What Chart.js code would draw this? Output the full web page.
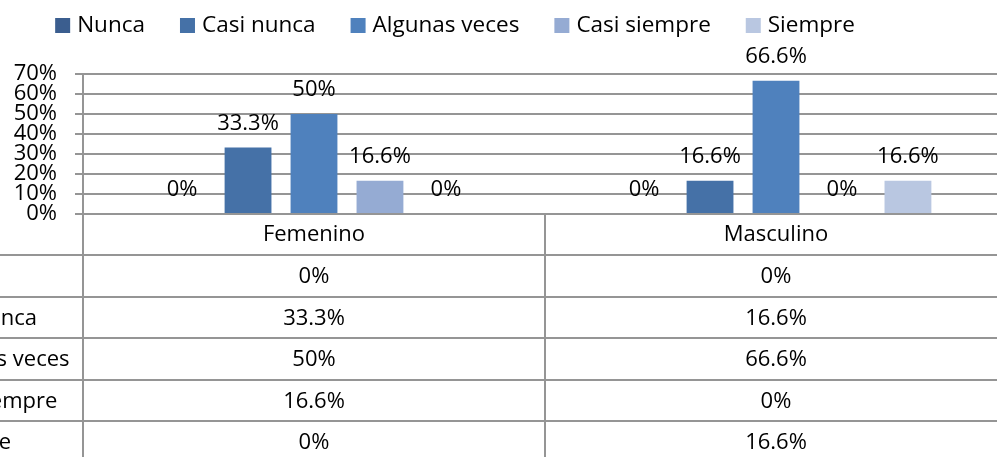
<!DOCTYPE html>
<html>
<head>
<meta charset="utf-8">
<script src="https://cdn.jsdelivr.net/npm/chart.js@4/dist/chart.umd.min.js"></script>
<style>
  html, body { margin: 0; padding: 0; background: #fff; overflow: hidden; width: 997px; height: 457px; }
  #wrap { position: absolute; left: -130px; top: 0; width: 1160px; height: 457px; }
  canvas { display: block; }
</style>
</head>
<body>
<div id="wrap"><canvas id="c" width="1160" height="457"></canvas></div>
<script>
// ---- data ----
const categories = ['Femenino', 'Masculino'];
const seriesNames = ['Nunca', 'Casi nunca', 'Algunas veces', 'Casi siempre', 'Siempre'];
const nunca = [0, 0];
const casiNunca = [33.3, 16.6];
const algunasVeces = [50, 66.6];
const casiSiempre = [16.6, 0];
const siempre = [0, 16.6];
const yTicks = [0, 10, 20, 30, 40, 50, 60, 70];

const seriesValues = [nunca, casiNunca, algunasVeces, casiSiempre, siempre];
const colors = ['#3B5E8F', '#4571A7', '#4F81BD', '#95ABD3', '#B9C7E1'];

const FONT = '22px "Open Sans"';
const LEGEND_FONT = '22.5px "Open Sans"';
const LINE = '#959595';
const fmt = v => v + '%';

const datasets = seriesNames.map((name, i) => ({
  label: name,
  data: seriesValues[i],
  backgroundColor: colors[i],
  borderWidth: 0,
  categoryPercentage: 0.714,
  barPercentage: 0.71
}));

// legend drawn from datasets
const legendPlugin = {
  id: 'customLegend',
  afterDraw(chart) {
    const ctx = chart.ctx;
    ctx.save();
    ctx.font = LEGEND_FONT;
    ctx.textBaseline = 'middle';
    ctx.textAlign = 'left';
    const box = 15, gap = 7, spacing = 35;
    const items = chart.data.datasets.map(d => ({ label: d.label, color: d.backgroundColor, w: ctx.measureText(d.label).width }));
    let total = items.reduce((s, it) => s + box + gap + it.w, 0) + spacing * (items.length - 1);
    const centerX = 455 + 130;
    let x = centerX - total / 2;
    const cy = 26;
    items.forEach(it => {
      ctx.fillStyle = it.color;
      ctx.fillRect(x, 18, box, box);
      ctx.fillStyle = '#000';
      ctx.fillText(it.label, x + box + gap, cy);
      x += box + gap + it.w + spacing;
    });
    ctx.restore();
  }
};

// value labels above bars
const valueLabels = {
  id: 'valueLabels',
  afterDatasetsDraw(chart) {
    const ctx = chart.ctx;
    ctx.save();
    ctx.font = FONT;
    ctx.fillStyle = '#000';
    ctx.textAlign = 'center';
    ctx.textBaseline = 'middle';
    chart.data.datasets.forEach((ds, di) => {
      const meta = chart.getDatasetMeta(di);
      meta.data.forEach((el, i) => {
        ctx.fillText(fmt(ds.data[i]), el.x, el.y - 24);
      });
    });
    ctx.restore();
  }
};

// data table beneath the chart
const dataTable = {
  id: 'dataTable',
  afterDraw(chart) {
    const ctx = chart.ctx;
    const area = chart.chartArea;
    const xs = chart.scales.x;
    const n = categories.length;
    const colW = (xs.getPixelForValue(1) - xs.getPixelForValue(0));
    const bounds = [];
    for (let i = 0; i <= n; i++) bounds.push(xs.getPixelForValue(0) - colW / 2 + i * colW);
    const rowH = 41.6;
    const headerBottom = area.bottom + 41;
    const rowLines = [headerBottom];
    for (let r = 1; r <= seriesNames.length; r++) rowLines.push(headerBottom + r * rowH);

    ctx.save();
    ctx.strokeStyle = LINE;
    ctx.lineWidth = 2;
    rowLines.forEach(y => {
      ctx.beginPath();
      ctx.moveTo(0, Math.round(y));
      ctx.lineTo(bounds[n], Math.round(y));
      ctx.stroke();
    });
    bounds.forEach(x => {
      ctx.beginPath();
      ctx.moveTo(Math.round(x), area.bottom);
      ctx.lineTo(Math.round(x), chart.height);
      ctx.stroke();
    });

    ctx.font = FONT;
    ctx.fillStyle = '#000';
    ctx.textBaseline = 'middle';
    ctx.textAlign = 'center';
    categories.forEach((c, i) => {
      ctx.fillText(c, (bounds[i] + bounds[i + 1]) / 2, (area.bottom + headerBottom) / 2);
    });
    seriesNames.forEach((name, r) => {
      const cy = (rowLines[r] + rowLines[r + 1]) / 2 + 1;
      ctx.textAlign = 'left';
      ctx.fillText(name, 56, cy);
      ctx.textAlign = 'center';
      seriesValues[r].forEach((v, i) => {
        ctx.fillText(fmt(v), (bounds[i] + bounds[i + 1]) / 2, cy);
      });
    });
    ctx.restore();
  }
};

new Chart(document.getElementById('c'), {
  type: 'bar',
  data: { labels: categories, datasets },
  options: {
    responsive: false,
    animation: false,
    devicePixelRatio: 1,
    layout: { padding: { top: 74, bottom: 243, left: 0, right: 23 } },
    plugins: { legend: { display: false }, tooltip: { enabled: false } },
    scales: {
      x: { display: false },
      y: {
        min: 0,
        max: 70,
        afterFit(scale) { scale.width = 213; },
        afterBuildTicks(scale) { scale.ticks = yTicks.map(v => ({ value: v })); },
        ticks: {
          autoSkip: false,
          stepSize: 10,
          padding: 18,
          color: '#000',
          font: { family: 'Open Sans', size: 22 },
          callback: v => v + '%'
        },
        grid: { color: LINE, lineWidth: 2, tickLength: 8, drawTicks: true },
        border: { color: LINE, width: 2 }
      }
    }
  },
  plugins: [valueLabels, legendPlugin, dataTable]
});
</script>
</body>
</html>
